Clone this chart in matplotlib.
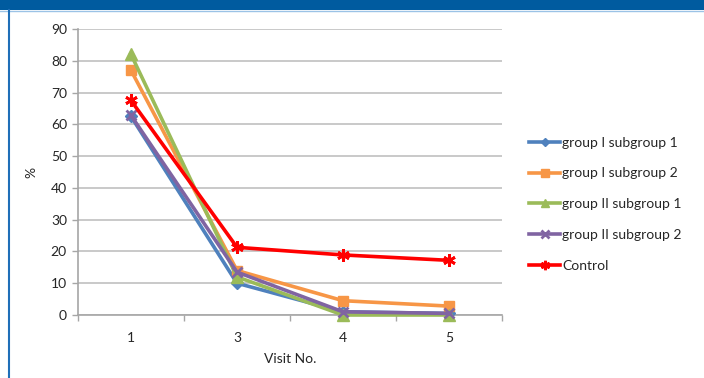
import matplotlib.pyplot as plt
from matplotlib.patches import Rectangle
from matplotlib.lines import Line2D

plt.rcParams['font.family'] = ['Lato', 'DejaVu Sans']

visits = ['1', '3', '4', '5']
g1_sub1 = [62.5, 10, 1, 0.5]
g1_sub2 = [77, 14, 4.5, 2.8]
g2_sub1 = [82, 12, 0, 0]
g2_sub2 = [62.8, 13.5, 1, 0.5]
control = [67.5, 21.3, 18.9, 17.2]

series = [
    ('group I subgroup 1', g1_sub1, '#4F81BD', 'D', 6),
    ('group I subgroup 2', g1_sub2, '#F79646', 's', 7.5),
    ('group II subgroup 1', g2_sub1, '#9BBB59', '^', 8),
    ('group II subgroup 2', g2_sub2, '#8064A2', 'x', 7.5),
    ('Control', control, '#FF0000', (6, 2, 0), 9),
]

fig = plt.figure(figsize=(7.04, 3.78), dpi=100)
ax = fig.add_axes([78 / 704, 1 - 315 / 378, 424 / 704, 286 / 378])

x = list(range(len(visits)))
for name, vals, col, mk, ms in series:
    mew = 2 if mk in ('x',) or isinstance(mk, tuple) else 1
    ax.plot(x, vals, color=col, lw=2.6, marker=mk, ms=ms, mew=mew,
            mec=col, mfc=col, label=name, clip_on=False, zorder=3)

ax.set_xlim(-0.5, 3.5)
ax.set_ylim(0, 90)
ax.set_yticks(range(0, 91, 10))
ax.set_xticks(x)
ax.set_xticklabels(visits)
ax.set_xticks([-0.5, 0.5, 1.5, 2.5, 3.5], minor=True)
ax.tick_params(axis='x', which='major', length=0, pad=12)
ax.tick_params(axis='x', which='minor', length=4, color='#A6A6A6', width=1)
ax.tick_params(axis='y', length=4, color='#A6A6A6', width=1, pad=4)
ax.tick_params(labelsize=10, labelcolor='#262626')
ax.grid(axis='y', color='#C0C0C0', lw=1.2)
ax.set_axisbelow(True)
for s in ('top', 'right'):
    ax.spines[s].set_visible(False)
for s in ('left', 'bottom'):
    ax.spines[s].set_color('#A6A6A6')
    ax.spines[s].set_linewidth(1.2)

ax.set_xlabel('Visit No.', fontsize=10, color='#262626', labelpad=7)
ax.set_ylabel('%', fontsize=10, color='#262626', labelpad=10)

leg = ax.legend(loc='center left', bbox_to_anchor=(1.035, 0.387), frameon=False,
                fontsize=10, handlelength=2.2, handletextpad=0.15,
                labelspacing=1.36, markerscale=0.75)
for t in leg.get_texts():
    t.set_color('#262626')

# header band and left frame edge
fig.patches.append(Rectangle((0, 1 - 10 / 378), 1, 10 / 378, transform=fig.transFigure,
                             facecolor='#005B9F', edgecolor='none', zorder=0))
fig.lines.append(Line2D([0, 1], [1 - 11 / 378] * 2, transform=fig.transFigure,
                        color='#9CC3E6', lw=1))
fig.lines.append(Line2D([9 / 704] * 2, [0, 1 - 10 / 378], transform=fig.transFigure,
                        color='#1F6FB8', lw=1.5))

fig.savefig('out.png', dpi=100)
